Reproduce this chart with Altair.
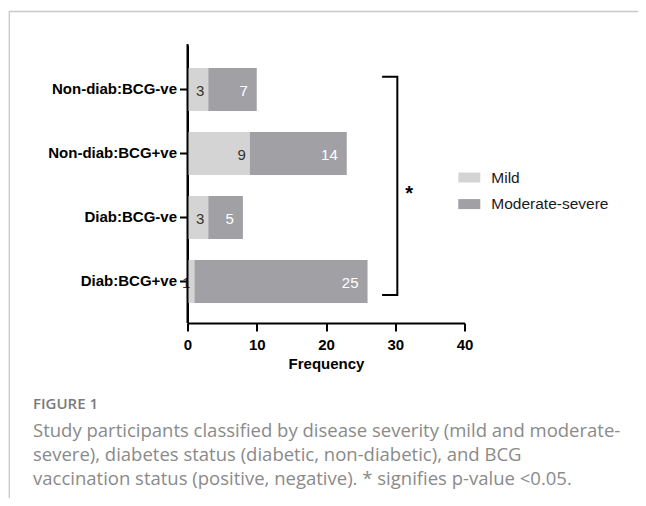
import altair as alt
import pandas as pd

# ---------------- data ----------------
categories = ["Non-diab:BCG-ve", "Non-diab:BCG+ve", "Diab:BCG-ve", "Diab:BCG+ve"]
severities = ["Mild", "Moderate-severe"]
mild = [3, 9, 3, 1]
moderate = [7, 14, 5, 25]
x_ticks = [0, 10, 20, 30, 40]

# significance bracket (x in frequency units, y in category-index units)
bracket_x = [28.1, 30.3, 30.3, 28.1]
bracket_y = [-0.2, -0.2, 3.21, 3.21]
star_x = [32.0]
star_y = [1.55]
star_text = ["*"]

caption_head = "FIGURE 1"
caption_lines = [
    "Study participants classified by disease severity (mild and moderate-",
    "severe), diabetes status (diabetic, non-diabetic), and BCG",
    "vaccination status (positive, negative). * signifies p-value <0.05.",
]

rows = []
for g, m, s in zip(categories, mild, moderate):
    rows.append({"group": g, "severity": severities[0], "n": m, "ord": 0})
    rows.append({"group": g, "severity": severities[1], "n": s, "ord": 1})
df = pd.DataFrame(rows)

bracket_df = pd.DataFrame({"x0": bracket_x, "by": bracket_y, "o": list(range(len(bracket_x)))})
star_df = pd.DataFrame({"x0": star_x, "by": star_y, "t": star_text})
yline_df = pd.DataFrame({"x0": [0]})

FONT = "Liberation Sans"
W, H = 277, 278
PAD_L, PAD_T = 179.5, 37

xscale = alt.Scale(domain=[0, 40], nice=False, zero=True)
yscale = alt.Scale(domain=categories, paddingInner=0.33, paddingOuter=0.337, align=0.534)
iscale = alt.Scale(domain=[-0.695, 3.648], reverse=True, nice=False, zero=False)

xaxis = alt.Axis(values=x_ticks, title="Frequency", grid=False, tickSize=8, labelPadding=6,
                 labelFlush=False, titlePadding=4, labelFontSize=15, titleFontSize=15,
                 labelFontWeight="bold", titleFontWeight="bold", labelFont=FONT, titleFont=FONT,
                 labelColor="black", titleColor="black", domainColor="black", tickColor="black",
                 domainWidth=2, tickWidth=2)
yaxis = alt.Axis(title=None, tickSize=8, labelPadding=3, labelFontSize=15, labelFontWeight="bold",
                 labelFont=FONT, labelColor="black", domain=True, domainColor="black",
                 tickColor="black", domainWidth=2, tickWidth=2, grid=False)

base = alt.Chart(df).transform_stack(
    stack="n", groupby=["group"], as_=["x0", "x1"], sort=[alt.SortField("ord")]
)

bars = base.mark_bar().encode(
    y=alt.Y("group:N", scale=yscale, sort=categories, axis=yaxis),
    x=alt.X("x0:Q", scale=xscale, axis=xaxis),
    x2="x1:Q",
    color=alt.Color(
        "severity:N",
        scale=alt.Scale(domain=severities, range=["#d4d4d4", "#a1a1a5"]),
        legend=alt.Legend(title=None, orient="none", legendX=270.8, legendY=121.5,
                          symbolType="M-1,-0.4545H1V0.4545H-1Z", symbolSize=484,
                          symbolStrokeWidth=0, symbolOpacity=1, labelFontSize=15.5,
                          labelFont=FONT, labelColor="#1a1a1a", labelOffset=11,
                          rowPadding=6.6, padding=0),
    ),
)

txt_mild = base.transform_filter(alt.datum.severity == "Mild").mark_text(
    align="right", baseline="middle", dx=-4, dy=2, fontSize=15, font=FONT, color="#333333"
).encode(
    y=alt.Y("group:N", scale=yscale, sort=categories, axis=yaxis),
    x=alt.X("x1:Q", scale=xscale, axis=xaxis),
    text="n:Q",
)
txt_mod = base.transform_filter(alt.datum.severity == "Moderate-severe").mark_text(
    align="right", baseline="middle", dx=-9, dy=2, fontSize=15, font=FONT, color="white"
).encode(
    y=alt.Y("group:N", scale=yscale, sort=categories, axis=yaxis),
    x=alt.X("x1:Q", scale=xscale, axis=xaxis),
    text="n:Q",
)

# y axis line (full height of the plot, at x = 0)
yline = alt.Chart(yline_df).mark_rule(color="black", strokeWidth=2).encode(
    x=alt.X("x0:Q", scale=xscale, axis=xaxis),
    y=alt.value(-1), y2=alt.value(H),
)

bracket = alt.Chart(bracket_df).mark_line(
    color="black", strokeWidth=2, strokeJoin="miter", strokeCap="butt"
).encode(
    x=alt.X("x0:Q", scale=xscale, axis=xaxis),
    y=alt.Y("by:Q", scale=iscale, axis=None),
    order="o:Q",
)
star = alt.Chart(star_df).mark_text(
    fontSize=20, fontWeight="bold", font=FONT, color="black", baseline="middle", dy=5
).encode(
    x=alt.X("x0:Q", scale=xscale, axis=xaxis),
    y=alt.Y("by:Q", scale=iscale, axis=None),
    text="t:N",
)

# figure frame + caption (page decoration, positioned in pixels)
deco_df = pd.DataFrame({"k": [0]})
frame_top = alt.Chart(deco_df).mark_rule(color="#c8c8c8", strokeWidth=1.3).encode(
    x=alt.value(-178.5), x2=alt.value(459), y=alt.value(-33.5)
)
frame_left = alt.Chart(deco_df).mark_rule(color="#c8c8c8", strokeWidth=1.3).encode(
    x=alt.value(-178.2), y=alt.value(-34), y2=alt.value(465)
)
cap_head = alt.Chart(deco_df).mark_text(
    align="left", baseline="middle", font="Open Sans", fontSize=15, fontWeight=600, color="#7a7a7a"
).encode(x=alt.value(-154.5), y=alt.value(359), text=alt.value(caption_head))
cap_layers = []
for i, line in enumerate(caption_lines):
    cap_layers.append(
        alt.Chart(deco_df).mark_text(
            align="left", baseline="middle", font="Open Sans", fontSize=18.5, fontWeight=400,
            color="#8a8a8a"
        ).encode(x=alt.value(-154.5), y=alt.value(386 + 24 * i), text=alt.value(line))
    )

main = alt.layer(bars, txt_mild, txt_mod)
annot = alt.layer(yline, bracket, star)
chart = alt.layer(main, annot, frame_top, frame_left, cap_head, *cap_layers).resolve_scale(
    y="independent"
).properties(
    width=W,
    height=H,
    background="white",
    autosize=alt.AutoSizeParams(type="none"),
    padding={"left": PAD_L, "top": PAD_T, "right": 630 - PAD_L - W, "bottom": 490 - PAD_T - H},
).configure_view(stroke=None)

chart.save("out.html", embed_options={"renderer": "svg", "actions": False})
